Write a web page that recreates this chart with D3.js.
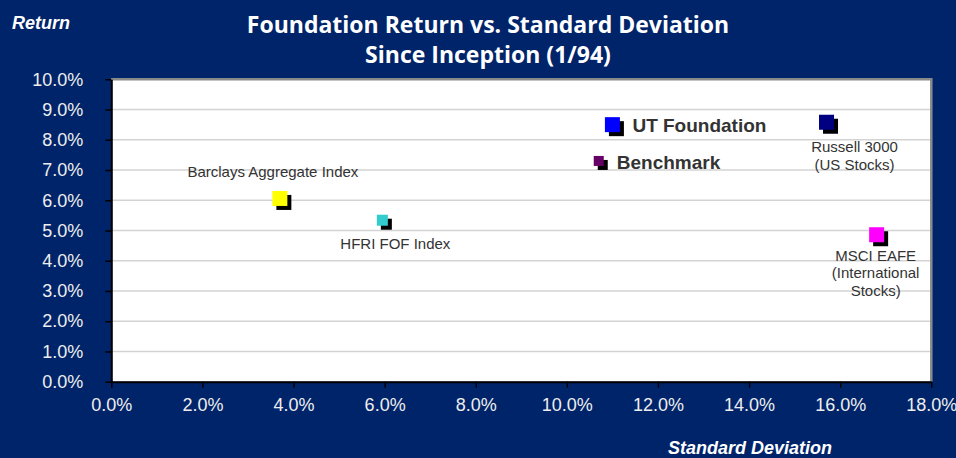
<!DOCTYPE html>
<html>
<head>
  <meta charset="utf-8">
  <title>Foundation Return vs. Standard Deviation</title>
  <script src="https://cdn.jsdelivr.net/npm/d3@7"></script>
  <style>
    body {
      margin: 0;
      overflow: hidden;
      background: #00246a;
    }
    .tick text {
      font-family: "Liberation Sans", Arial, sans-serif;
      font-size: 18px;
      fill: #eeeeee;
    }
  </style>
</head>
<body>
  <svg id="chart" width="956" height="458"></svg>
  <script>
    // data (std dev %, return %)
    const names = ['UT Foundation', 'Benchmark', 'Russell 3000', 'Barclays Aggregate Index', 'HFRI FOF Index', 'MSCI EAFE'];
    const stdDev = [11.0, 10.7, 15.7, 3.7, 5.95, 16.8];
    const returns = [8.5, 7.3, 8.58, 6.06, 5.34, 4.86];
    const xTicks = [0, 2, 4, 6, 8, 10, 12, 14, 16, 18];
    const yTicks = [0, 1, 2, 3, 4, 5, 6, 7, 8, 9, 10];

    // look of each marker + where its label sits
    const markStyle = {
      'UT Foundation': { color: '#0000ff', size: 15, lines: ['UT Foundation'], dx: 20, dy: 7, anchor: 'start', bold: true },
      'Benchmark': { color: '#660066', size: 10, lines: ['Benchmark'], dx: 18, dy: 8, anchor: 'start', bold: true },
      'Russell 3000': { color: '#000080', size: 15, lines: ['Russell 3000', '(US Stocks)'], dx: 28, dy: 30, anchor: 'middle' },
      'Barclays Aggregate Index': { color: '#ffff00', size: 15, lines: ['Barclays Aggregate Index'], dx: -7, dy: -21, anchor: 'middle' },
      'HFRI FOF Index': { color: '#33cccc', size: 11, lines: ['HFRI FOF Index'], dx: 13, dy: 29, anchor: 'middle' },
      'MSCI EAFE': { color: '#ff00ff', size: 15, lines: ['MSCI EAFE', '(International', 'Stocks)'], dx: -1, dy: 26, anchor: 'middle' }
    };

    const svg = d3.select('#chart');
    const pLeft = 111.3, pRight = 931.3, pTop = 79.3, pBottom = 381.7;

    const x = d3.scaleLinear().domain([0, 18]).range([pLeft, pRight]);
    const y = d3.scaleLinear().domain([0, 10]).range([pBottom, pTop]);
    const pct = v => d3.format('.1f')(v) + '%';

    svg.append('rect')
      .attr('x', pLeft).attr('y', pTop)
      .attr('width', pRight - pLeft).attr('height', pBottom - pTop)
      .attr('fill', '#ffffff');

    // horizontal grid
    svg.append('g')
      .selectAll('line')
      .data(yTicks.slice(1))
      .enter()
      .append('line')
      .attr('x1', pLeft).attr('x2', pRight)
      .attr('y1', d => y(d)).attr('y2', d => y(d))
      .attr('stroke', '#d3d3d3')
      .attr('stroke-width', 1.5);

    // gray frame on top and right
    svg.append('path')
      .attr('d', `M${pLeft},${pTop}H${pRight}V${pBottom}`)
      .attr('fill', 'none')
      .attr('stroke', '#8a8a8a')
      .attr('stroke-width', 2.5);

    const xAxis = svg.append('g')
      .attr('transform', `translate(0,${pBottom})`)
      .call(d3.axisBottom(x).tickValues(xTicks).tickFormat(pct).tickSize(6).tickSizeOuter(0).tickPadding(10.5));
    const yAxis = svg.append('g')
      .attr('transform', `translate(${pLeft},0)`)
      .call(d3.axisLeft(y).tickValues(yTicks).tickFormat(pct).tickSize(6).tickSizeOuter(0).tickPadding(22));
    [xAxis, yAxis].forEach(a => {
      a.attr('font-family', null).attr('font-size', null);
      a.select('.domain').attr('stroke', '#000').attr('stroke-width', 2);
      a.selectAll('.tick line').attr('stroke', '#000').attr('stroke-width', 1.5);
    });

    const pts = names.map((n, i) => ({ name: n, sd: stdDev[i], ret: returns[i], st: markStyle[n] }));

    // shadow then coloured square
    const marks = svg.append('g').selectAll('g').data(pts).enter().append('g')
      .attr('transform', d => `translate(${x(d.sd)},${y(d.ret)})`);
    marks.append('rect')
      .attr('x', d => -d.st.size / 2 + 4).attr('y', d => -d.st.size / 2 + 4)
      .attr('width', d => d.st.size).attr('height', d => d.st.size)
      .attr('fill', '#000');
    marks.append('rect')
      .attr('x', d => -d.st.size / 2).attr('y', d => -d.st.size / 2)
      .attr('width', d => d.st.size).attr('height', d => d.st.size)
      .attr('fill', d => d.st.color);

    marks.append('text')
      .attr('x', d => d.st.dx)
      .attr('y', d => d.st.dy)
      .attr('text-anchor', d => d.st.anchor)
      .attr('fill', '#333333')
      .style('font-family', '"Liberation Sans", Arial, sans-serif')
      .style('font-size', d => d.st.bold ? '19px' : '15px')
      .style('font-weight', d => d.st.bold ? 'bold' : 'normal')
      .selectAll('tspan')
      .data(d => d.st.lines.map((l, i) => ({ l, i, dx: d.st.dx })))
      .enter()
      .append('tspan')
      .attr('x', d => d.dx)
      .attr('dy', d => d.i === 0 ? 0 : 17.5)
      .text(d => d.l);

    // titles
    const title = svg.append('text')
      .attr('text-anchor', 'middle')
      .attr('fill', '#ffffff')
      .style('font-family', '"Open Sans", sans-serif')
      .style('font-size', '23px')
      .style('font-weight', 'bold');
    title.append('tspan').attr('x', 488).attr('y', 33).text('Foundation Return vs. Standard Deviation');
    title.append('tspan').attr('x', 488).attr('y', 63).text('Since Inception (1/94)');

    svg.append('text')
      .attr('x', 12).attr('y', 29)
      .attr('fill', '#ffffff')
      .style('font-family', '"Liberation Sans", Arial, sans-serif')
      .style('font-size', '18px')
      .style('font-weight', 'bold')
      .style('font-style', 'italic')
      .text('Return');

    svg.append('text')
      .attr('x', 750).attr('y', 454)
      .attr('text-anchor', 'middle')
      .attr('fill', '#ffffff')
      .style('font-family', '"Liberation Sans", Arial, sans-serif')
      .style('font-size', '18px')
      .style('font-weight', 'bold')
      .style('font-style', 'italic')
      .text('Standard Deviation');
  </script>
</body>
</html>
